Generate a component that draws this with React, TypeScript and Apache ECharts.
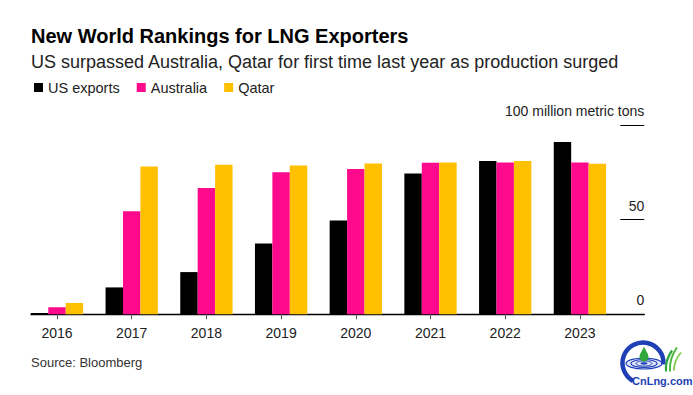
import React, { useEffect, useRef } from "react";
import * as echarts from "echarts";

const years = ["2016", "2017", "2018", "2019", "2020", "2021", "2022", "2023"];
const usExports = [0.7, 14.2, 22.3, 37.4, 49.5, 74.4, 81, 91];
const australia = [3.7, 54.4, 66.7, 75.1, 76.8, 80, 80.2, 80.2];
const qatar = [6, 78.1, 79, 78.6, 79.6, 80.2, 81, 79.5];
const seriesNames = ["US exports", "Australia", "Qatar"];
const colors = ["#000000", "#ff0a8c", "#ffc000"];
const yMin = 0;
const yMax = 100;
const yInterval = 50;
const unitLabel = "100 million metric tons";

const FONT = "'Liberation Sans', Arial, Helvetica, sans-serif";

echarts.graphic.registerShape(
  "drop",
  echarts.graphic.extendPath(
    "M0,-8 C1.5,-4 4.5,-1 4.5,2.5 A4.5,4.5 0 1,1 -4.5,2.5 C-4.5,-1 -1.5,-4 0,-8 Z",
    {}
  )
);

export default function App() {
  const ref = useRef<HTMLDivElement>(null);

  useEffect(() => {
    if (!ref.current) return;
    const chart = echarts.init(ref.current, null, { renderer: "svg" });
    const blue = "#1f3fb5";
    const green = "#2ea83c";
    const option: any = {
      animation: false,
      backgroundColor: "#ffffff",
      title: [
        {
          text: "New World Rankings for LNG Exporters",
          left: 31,
          top: 26,
          padding: 0,
          textStyle: { fontFamily: FONT, fontSize: 20, fontWeight: "bold", color: "#000" },
        },
        {
          text: "US surpassed Australia, Qatar for first time last year as production surged",
          left: 31,
          top: 53,
          padding: 0,
          textStyle: { fontFamily: FONT, fontSize: 18, fontWeight: "normal", color: "#222" },
        },
        {
          text: "Source: Bloomberg",
          left: 31,
          top: 356,
          padding: 0,
          textStyle: { fontFamily: FONT, fontSize: 13, fontWeight: "normal", color: "#333" },
        },
      ],
      legend: {
        left: 34,
        top: 80,
        padding: 0,
        itemWidth: 9,
        itemHeight: 9,
        itemGap: 17,
        icon: "rect",
        data: seriesNames,
        textStyle: { fontFamily: FONT, fontSize: 14.5, color: "#222" },
      },
      grid: [
        { left: 19.65, right: 75.75, top: 125, bottom: 80.7 },
        { left: 31, right: 48.7, top: 125, bottom: 80.7 },
      ],
      xAxis: [
        {
          type: "category",
          gridIndex: 0,
          data: years,
          axisLine: { show: false },
          axisTick: { show: true, alignWithLabel: true, length: 5, lineStyle: { color: "#555" } },
          axisLabel: { fontFamily: FONT, fontSize: 14, color: "#222", margin: 12 },
        },
        {
          type: "value",
          gridIndex: 1,
          position: "bottom",
          min: 0,
          max: 1,
          axisLine: { show: true, onZero: false, lineStyle: { color: "#000", width: 1.3 } },
          axisTick: { show: false },
          axisLabel: { show: false },
          splitLine: { show: false },
        },
      ],
      yAxis: [
        {
          type: "value",
          gridIndex: 0,
          min: yMin,
          max: yMax,
          interval: yInterval,
          show: false,
          splitLine: { show: false },
        },
        {
          type: "value",
          gridIndex: 1,
          position: "right",
          min: yMin,
          max: yMax,
          interval: yInterval,
          axisLine: { show: false, onZero: false },
          axisTick: { show: true, inside: true, length: 24, lineStyle: { color: "#000", width: 1 } },
          axisLabel: {
            inside: true,
            margin: 0,
            verticalAlign: "bottom",
            padding: [0, 0, 7, 0],
            fontFamily: FONT,
            fontSize: 14,
            color: "#222",
            formatter: (v: number) => (v === yMax ? unitLabel : String(v)),
          },
          splitLine: { show: false },
        },
      ],
      series: [usExports, australia, qatar].map((d, i) => ({
        name: seriesNames[i],
        type: "bar",
        xAxisIndex: 0,
        yAxisIndex: 0,
        data: d,
        itemStyle: { color: colors[i] },
        barGap: "0%",
        barCategoryGap: "30%",
      })),
      graphic: [
        {
          type: "group",
          left: 620,
          top: 340,
          children: [
            {
              type: "ellipse",
              shape: { cx: 28, cy: 25, rx: 18, ry: 5.5 },
              style: { fill: "#dfe6fb", stroke: blue, lineWidth: 1.2 },
            },
            {
              type: "ellipse",
              shape: { cx: 28, cy: 25, rx: 13, ry: 4 },
              style: { fill: "none", stroke: blue, lineWidth: 1.1 },
            },
            {
              type: "ellipse",
              shape: { cx: 28, cy: 25, rx: 8, ry: 2.6 },
              style: { fill: "none", stroke: blue, lineWidth: 1 },
            },
            {
              type: "ellipse",
              shape: { cx: 28, cy: 25, rx: 3.5, ry: 1.2 },
              style: { fill: blue },
            },
            {
              type: "arc",
              shape: { cx: 27, cy: 24.5, r: 20.5, startAngle: (119 * Math.PI) / 180, endAngle: (364 * Math.PI) / 180, clockwise: true },
              style: { stroke: blue, lineWidth: 4.5, fill: null },
            },
            {
              type: "drop",
              x: 28,
              y: 16,
              style: { fill: green },
            },
            {
              type: "bezierCurve",
              shape: { x1: 50, y1: 33, cpx1: 49, cpy1: 22, x2: 56, y2: 12 },
              style: { stroke: green, lineWidth: 2.2, fill: null },
            },
            {
              type: "bezierCurve",
              shape: { x1: 54, y1: 33, cpx1: 53, cpy1: 20, x2: 61, y2: 9 },
              style: { stroke: "#4cbb3c", lineWidth: 2, fill: null },
            },
            {
              type: "bezierCurve",
              shape: { x1: 58, y1: 32, cpx1: 58, cpy1: 22, x2: 65, y2: 14 },
              style: { stroke: "#7fcc4a", lineWidth: 1.8, fill: null },
            },
            {
              type: "text",
              x: 16,
              y: 42.5,
              style: {
                text: "CnLng.com",
                fill: blue,
                font: "bold 11px " + FONT,
                verticalAlign: "middle",
              },
            },
          ],
        },
      ],
    };
    chart.setOption(option);
    return () => chart.dispose();
  }, []);

  return (
    <div
      ref={ref}
      style={{ position: "fixed", left: 0, top: 0, width: 693, height: 395, background: "#fff" }}
    />
  );
}
